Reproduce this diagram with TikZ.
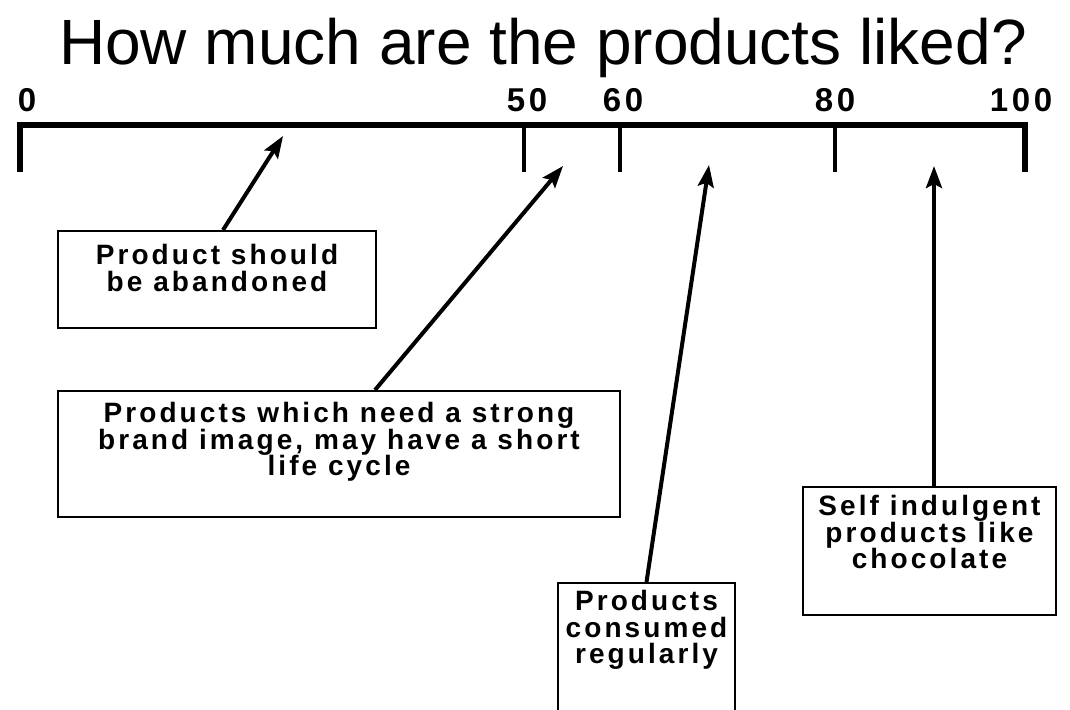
\documentclass[tikz,border=0pt]{standalone}
\usepackage{fontspec}
\setmainfont{Liberation Sans}
\newfontfamily\boxfont[LetterSpace=11]{Liberation Sans}
\usetikzlibrary{arrows.meta,calc}
\begin{document}
\begin{tikzpicture}[x=1pt,y=-1pt,
  boxframe/.style={draw, line width=2pt, inner sep=0pt},
  boxtext/.style={font=\boxfont\bfseries\fontsize{28}{26.5}\selectfont, align=center, inner sep=0pt},
  ticklabel/.style={font=\boxfont\bfseries\fontsize{33}{33}\selectfont, inner sep=0pt},
  arr/.style={line width=4pt, -{Stealth[length=22pt,width=16pt,inset=4pt]}},
  axisline/.style={line width=6pt, line join=miter},
  tickmark/.style={line width=4.5pt}]
\fill[white] (0,0) rectangle (1070,709);
\clip (0,0) rectangle (1070,709);
% title
\node[font=\fontsize{64}{64}\selectfont, anchor=base, inner sep=0pt] (title) at (543,65) {How much are the products liked?};
% axis
\coordinate (a0) at (20,125);
\coordinate (a100) at (1025,125);
\draw[axisline] (20,172) -- (a0) -- (a100) -- (1025,172);
\foreach \x/\n in {524/50, 620/60, 835/80}{
  \coordinate (a\n) at (\x,125);
  \draw[tickmark] (a\n) -- (\x,172);
}
\node[ticklabel] (l0) at (27,100) {0};
\node[ticklabel] (l50) at (527,100) {50};
\node[ticklabel] (l60) at (623,100) {60};
\node[ticklabel] (l80) at (835,100) {80};
\node[ticklabel] (l100) at (1021,100) {100};
% boxes
\node[boxframe, minimum width=318pt, minimum height=97pt] (b1) at (217,279.5) {};
\node[boxtext] (t1) at (217,268) {Product should\\be abandoned};
\node[boxframe, minimum width=562pt, minimum height=126pt] (b2) at (339,454) {};
\node[boxtext] (t2) at (339,442) {Products which need a strong\\brand image, may have a short\\life cycle};
\node[boxframe, minimum width=177pt, minimum height=160pt] (b3) at (646.5,663) {};
\node[boxtext] (t3) at (646.5,630) {Products\\consumed\\regularly};
\node[boxframe, minimum width=253pt, minimum height=128pt] (b4) at (929.5,551) {};
\node[boxtext] (t4) at (929.5,532) {Self indulgent\\products like\\chocolate};
% arrow tips
\coordinate (p1) at (283,136);
\coordinate (p2) at (563,166);
\coordinate (p3) at (709,165);
\coordinate (p4) at (934,166);
\draw[arr] ($(b1.north)+(6,0)$) -- (p1);
\draw[arr] ($(b2.north)+(36,0)$) -- (p2);
\draw[arr] (b3.north) -- (p3);
\draw[arr] ($(b4.north)+(4.5,0)$) -- (p4);
\end{tikzpicture}
\end{document}
